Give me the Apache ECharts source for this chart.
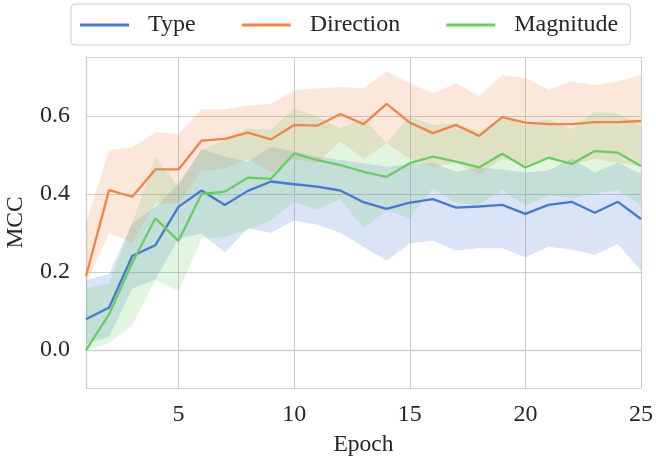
<!DOCTYPE html>
<html>
<head>
<meta charset="utf-8">
<script src="https://cdn.jsdelivr.net/npm/echarts@6/dist/echarts.min.js"></script>
<style>
  html, body { margin: 0; padding: 0; background: #fff; }
  #main { width: 656px; height: 461px; }
</style>
</head>
<body>
<div id="main"></div>
<script>
// epochs 1..25
var epochs = ['1','2','3','4','5','6','7','8','9','10','11','12','13','14','15','16','17','18','19','20','21','22','23','24','25'];

// Type
var typeMean  = [0.079,0.109,0.241,0.269,0.367,0.409,0.372,0.408,0.432,0.425,0.419,0.409,0.379,0.362,0.378,0.387,0.365,0.368,0.372,0.349,0.372,0.380,0.352,0.380,0.336];
var typeUpper = [0.180,0.195,0.325,0.367,0.427,0.515,0.496,0.483,0.521,0.509,0.496,0.487,0.479,0.470,0.477,0.480,0.457,0.468,0.462,0.455,0.460,0.491,0.455,0.480,0.451];
var typeLower = [0.017,0.034,0.158,0.181,0.286,0.299,0.250,0.312,0.301,0.332,0.321,0.301,0.265,0.229,0.274,0.280,0.255,0.261,0.261,0.238,0.265,0.258,0.244,0.272,0.203];

// Direction
var dirMean  = [0.190,0.410,0.393,0.463,0.463,0.537,0.541,0.557,0.540,0.577,0.575,0.605,0.579,0.631,0.583,0.556,0.577,0.549,0.597,0.583,0.579,0.579,0.584,0.584,0.587];
var dirUpper = [0.325,0.513,0.520,0.558,0.554,0.617,0.617,0.626,0.631,0.665,0.671,0.674,0.671,0.714,0.684,0.658,0.684,0.651,0.705,0.697,0.667,0.688,0.679,0.688,0.705];
var dirLower = [0.170,0.300,0.275,0.376,0.376,0.460,0.465,0.490,0.455,0.490,0.480,0.535,0.490,0.530,0.490,0.470,0.480,0.450,0.490,0.475,0.490,0.475,0.490,0.480,0.470];

// Magnitude
var magMean  = [0.000,0.092,0.224,0.338,0.280,0.400,0.406,0.442,0.439,0.504,0.487,0.474,0.457,0.444,0.479,0.496,0.483,0.468,0.503,0.468,0.493,0.477,0.510,0.506,0.472];
var magUpper = [0.100,0.170,0.325,0.494,0.419,0.513,0.538,0.568,0.564,0.620,0.598,0.568,0.594,0.530,0.598,0.577,0.581,0.560,0.598,0.577,0.592,0.566,0.611,0.607,0.573];
var magLower = [-0.058,0.018,0.064,0.180,0.150,0.286,0.290,0.309,0.333,0.380,0.361,0.386,0.312,0.359,0.338,0.415,0.376,0.372,0.410,0.369,0.397,0.389,0.402,0.410,0.369];

var names  = ['Type', 'Direction', 'Magnitude'];
var colors = ['#4878d0', '#ee854a', '#6acc64'];
var means  = [typeMean, dirMean, magMean];
var uppers = [typeUpper, dirUpper, magUpper];
var lowers = [typeLower, dirLower, magLower];

var FONT = 'Liberation Serif';
var TXT = '#262626';

function showEvery5(i) { return (i + 1) % 5 === 0; }

var series = [];
// confidence bands: invisible lower line + stacked width with area
for (var k = 0; k < 3; k++) {
  var low = lowers[k], up = uppers[k];
  series.push({
    name: names[k] + '_lo',
    type: 'line',
    stack: 'band' + k,
    symbol: 'none',
    silent: true,
    lineStyle: { opacity: 0 },
    data: low,
    z: 1
  });
  series.push({
    name: names[k] + '_band',
    type: 'line',
    stack: 'band' + k,
    symbol: 'none',
    silent: true,
    lineStyle: { opacity: 0 },
    areaStyle: { color: colors[k], opacity: 0.2 },
    data: up.map(function (u, i) { return +(u - low[i]).toFixed(3); }),
    z: 1
  });
}
// mean lines
for (var k = 0; k < 3; k++) {
  series.push({
    name: names[k],
    type: 'line',
    symbol: 'none',
    lineStyle: { color: colors[k], width: 2.3 },
    itemStyle: { color: colors[k] },
    data: means[k],
    z: 3
  });
}

var myChart = echarts.init(document.getElementById('main'));
var option = {
  backgroundColor: '#fff',
  animation: false,
  legend: {
    data: names,
    left: 71,
    top: 4,
    padding: [9, 12, 8, 9],
    icon: 'rect',
    itemWidth: 49,
    itemHeight: 3,
    itemGap: 46,
    borderColor: '#cccccc',
    borderWidth: 1,
    borderRadius: 4,
    textStyle: { fontFamily: FONT, fontSize: 24, color: TXT, padding: [0, 0, 0, 14] }
  },
  grid: { left: 86, right: 15, top: 57, bottom: 73, containLabel: false, outerBoundsMode: 'none' },
  xAxis: {
    type: 'category',
    data: epochs,
    boundaryGap: false,
    name: 'Epoch',
    nameLocation: 'middle',
    nameGap: 45,
    nameTextStyle: { fontFamily: FONT, fontSize: 23.5, color: TXT },
    axisLine: { show: true, lineStyle: { color: '#cccccc', width: 1.3 } },
    axisTick: { show: false },
    axisLabel: {
      interval: showEvery5,
      fontFamily: FONT, fontSize: 24, color: TXT, margin: 15
    },
    splitLine: { show: true, interval: showEvery5, lineStyle: { color: '#cccccc', width: 1 } }
  },
  yAxis: {
    type: 'value',
    min: -0.097,
    max: 0.751,
    splitNumber: 4,
    name: 'MCC',
    nameLocation: 'middle',
    nameGap: 58,
    nameTextStyle: { fontFamily: FONT, fontSize: 23.5, color: TXT },
    axisLine: { show: true, lineStyle: { color: '#cccccc', width: 1.3 } },
    axisTick: { show: false },
    axisLabel: {
      showMinLabel: false,
      showMaxLabel: false,
      fontFamily: FONT, fontSize: 24, color: TXT, margin: 16,
      formatter: function (v) { return v.toFixed(1); }
    },
    splitLine: { show: true, lineStyle: { color: '#cccccc', width: 1 } }
  },
  series: series
};
myChart.setOption(option);
</script>
</body>
</html>
